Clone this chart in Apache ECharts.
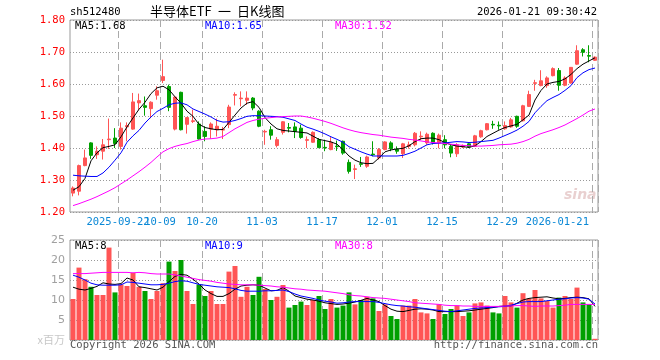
<!DOCTYPE html>
<html><head><meta charset="utf-8">
<script src="https://cdn.jsdelivr.net/npm/echarts@6/dist/echarts.min.js"></script>
<style>html,body{margin:0;padding:0;background:#fff}#c{width:660px;height:360px}</style>
</head><body><div id="c"></div>
<script>
const dates = [
'2025-09-10','2025-09-11','2025-09-12','2025-09-15','2025-09-16','2025-09-17','2025-09-18','2025-09-19',
'2025-09-22','2025-09-23','2025-09-24','2025-09-25','2025-09-26','2025-09-29','2025-09-30',
'2025-10-09','2025-10-10','2025-10-13','2025-10-14','2025-10-15','2025-10-16','2025-10-17',
'2025-10-20','2025-10-21','2025-10-22','2025-10-23','2025-10-24','2025-10-27','2025-10-28','2025-10-29','2025-10-30','2025-10-31',
'2025-11-03','2025-11-04','2025-11-05','2025-11-06','2025-11-07','2025-11-10','2025-11-11','2025-11-12','2025-11-13','2025-11-14',
'2025-11-17','2025-11-18','2025-11-19','2025-11-20','2025-11-21','2025-11-24','2025-11-25','2025-11-26','2025-11-27','2025-11-28',
'2025-12-01','2025-12-02','2025-12-03','2025-12-04','2025-12-05','2025-12-08','2025-12-09','2025-12-10','2025-12-11','2025-12-12',
'2025-12-15','2025-12-16','2025-12-17','2025-12-18','2025-12-19','2025-12-22','2025-12-23','2025-12-24','2025-12-25','2025-12-26',
'2025-12-29','2025-12-30','2025-12-31',
'2026-01-05','2026-01-06','2026-01-07','2026-01-08','2026-01-09','2026-01-12','2026-01-13','2026-01-14','2026-01-15','2026-01-16',
'2026-01-19','2026-01-20','2026-01-21'];

const openP = [1.259,1.265,1.345,1.416,1.379,1.390,1.426,1.431,1.405,1.466,
1.459,1.541,1.532,1.523,1.565,1.611,1.592,1.459,1.574,1.474,
1.483,1.475,1.452,1.459,1.457,1.456,1.473,1.565,1.554,1.549,
1.556,1.515,1.450,1.457,1.408,1.449,1.464,1.466,1.462,1.424,
1.418,1.426,1.402,1.395,1.406,1.421,1.355,1.333,1.351,1.343,
1.381,1.369,1.395,1.416,1.396,1.382,1.405,1.410,1.435,1.416,
1.446,1.416,1.426,1.405,1.382,1.403,1.413,1.405,1.435,1.457,
1.474,1.471,1.460,1.466,1.499,1.485,1.530,1.602,1.595,1.595,
1.626,1.642,1.596,1.603,1.662,1.707,1.689,1.674];
const closeP = [1.275,1.345,1.369,1.377,1.390,1.410,1.428,1.414,1.462,1.470,
1.544,1.548,1.527,1.543,1.579,1.623,1.527,1.559,1.457,1.495,
1.485,1.428,1.436,1.475,1.468,1.458,1.528,1.567,1.556,1.556,
1.525,1.468,1.452,1.440,1.426,1.482,1.462,1.452,1.433,1.426,
1.449,1.401,1.400,1.418,1.404,1.384,1.327,1.335,1.349,1.372,
1.379,1.395,1.419,1.398,1.390,1.413,1.410,1.446,1.437,1.443,
1.416,1.440,1.410,1.384,1.410,1.408,1.403,1.438,1.454,1.476,
1.472,1.469,1.470,1.488,1.468,1.532,1.567,1.604,1.610,1.619,
1.648,1.596,1.619,1.652,1.704,1.699,1.687,1.684];
const lowP = [1.249,1.252,1.343,1.366,1.366,1.364,1.397,1.400,1.395,1.421,
1.457,1.518,1.501,1.493,1.551,1.603,1.515,1.455,1.455,1.445,
1.478,1.426,1.421,1.429,1.436,1.428,1.462,1.533,1.530,1.535,
1.518,1.465,1.410,1.426,1.402,1.442,1.449,1.431,1.429,1.400,
1.416,1.400,1.390,1.393,1.391,1.379,1.320,1.303,1.341,1.338,
1.374,1.364,1.393,1.390,1.382,1.369,1.398,1.405,1.425,1.410,
1.411,1.399,1.399,1.371,1.372,1.400,1.400,1.403,1.432,1.455,
1.460,1.457,1.457,1.463,1.463,1.483,1.528,1.579,1.593,1.588,
1.624,1.579,1.593,1.601,1.660,1.686,1.668,1.672];
const highP = [1.280,1.348,1.395,1.418,1.405,1.428,1.492,1.462,1.480,1.480,
1.572,1.570,1.561,1.546,1.593,1.676,1.598,1.561,1.576,1.497,
1.520,1.483,1.468,1.480,1.492,1.466,1.535,1.574,1.577,1.577,
1.559,1.518,1.457,1.468,1.434,1.484,1.478,1.480,1.473,1.436,
1.452,1.431,1.426,1.434,1.423,1.423,1.364,1.348,1.372,1.376,
1.421,1.400,1.421,1.421,1.405,1.416,1.420,1.450,1.452,1.448,
1.449,1.445,1.440,1.410,1.415,1.411,1.415,1.441,1.457,1.478,
1.485,1.483,1.483,1.494,1.501,1.535,1.579,1.613,1.643,1.624,
1.652,1.650,1.624,1.653,1.721,1.712,1.721,1.686];

const volume = [10.25,18.1,15.2,13.3,11.25,11.25,23.1,11.9,13.9,13.5,
16.8,13.3,12.25,10.25,12.25,14.2,19.6,17.25,20.0,12.25,
9.0,13.9,11.0,12.25,9.0,9.0,17.1,18.5,10.8,13.3,
11.25,15.8,12.75,10.0,10.8,13.75,8.1,8.75,9.6,8.75,
10.0,11.0,7.75,10.25,8.1,8.6,11.9,8.9,10.0,10.8,
10.4,7.25,8.9,6.0,5.25,8.6,8.6,10.25,6.9,6.65,
5.25,8.9,6.5,7.75,8.6,6.0,6.9,9.15,9.4,8.6,
6.9,6.65,11.0,9.4,8.1,11.7,10.4,12.5,10.4,9.75,
8.1,10.6,11.0,10.25,13.1,9.4,8.9,0.3];

const ma5 = [1.268,1.279,1.305,1.360,1.385,1.401,1.405,1.410,1.435,1.466,
1.494,1.521,1.543,1.570,1.588,1.593,1.582,1.560,1.540,1.515,
1.499,1.474,1.464,1.460,1.457,1.458,1.480,1.503,1.525,1.540,
1.545,1.527,1.495,1.475,1.460,1.455,1.453,1.451,1.449,1.447,
1.437,1.427,1.423,1.419,1.412,1.395,1.375,1.362,1.354,1.351,
1.352,1.369,1.388,1.394,1.397,1.399,1.407,1.420,1.429,1.431,
1.431,1.426,1.417,1.410,1.406,1.404,1.402,1.407,1.420,1.436,
1.446,1.456,1.464,1.469,1.474,1.488,1.503,1.550,1.580,1.600,
1.605,1.608,1.616,1.630,1.648,1.662,1.672,1.682];
const ma10 = [1.315,1.313,1.312,1.311,1.311,1.322,1.340,1.362,1.385,1.418,
1.438,1.455,1.478,1.497,1.514,1.524,1.535,1.540,1.541,1.535,
1.522,1.514,1.506,1.497,1.486,1.481,1.482,1.486,1.492,1.499,
1.501,1.501,1.500,1.499,1.498,1.496,1.491,1.486,1.475,1.465,
1.459,1.452,1.444,1.435,1.427,1.418,1.404,1.396,1.388,1.381,
1.375,1.375,1.375,1.375,1.375,1.377,1.383,1.390,1.400,1.410,
1.414,1.415,1.416,1.418,1.420,1.419,1.417,1.418,1.420,1.422,
1.424,1.431,1.439,1.447,1.456,1.468,1.483,1.510,1.530,1.548,
1.558,1.567,1.580,1.595,1.620,1.635,1.645,1.650];
const ma30 = [1.220,1.226,1.233,1.240,1.248,1.257,1.266,1.276,1.288,1.300,
1.313,1.326,1.340,1.355,1.372,1.388,1.398,1.405,1.410,1.414,
1.420,1.425,1.428,1.429,1.431,1.436,1.448,1.460,1.470,1.480,
1.486,1.490,1.493,1.495,1.497,1.498,1.499,1.500,1.500,1.497,
1.493,1.488,1.483,1.477,1.470,1.463,1.457,1.452,1.448,1.445,
1.442,1.440,1.437,1.434,1.432,1.430,1.427,1.425,1.422,1.419,
1.417,1.416,1.414,1.412,1.410,1.408,1.407,1.406,1.406,1.407,
1.408,1.410,1.411,1.412,1.415,1.420,1.427,1.437,1.445,1.451,
1.457,1.464,1.472,1.482,1.492,1.503,1.515,1.522];

const volMa5 = [13.2,12.7,12.5,12.9,13.4,14.3,14.0,13.9,14.1,15.5,
15.0,13.3,13.1,12.8,12.5,13.2,14.6,15.9,16.4,16.2,
15.2,14.0,12.5,11.6,10.9,10.9,11.6,12.7,13.5,13.7,
13.8,13.7,13.0,12.3,12.4,13.1,12.2,11.0,10.6,10.2,
10.0,9.7,9.3,9.1,8.9,9.0,9.2,9.5,9.9,10.4,
10.0,9.6,8.6,7.7,7.2,7.1,7.4,7.7,7.8,7.7,
7.5,7.1,7.1,7.1,7.1,7.2,7.3,7.5,7.7,7.9,
8.1,8.4,8.5,8.5,9.2,10.0,10.4,10.6,10.7,10.8,
10.5,10.3,10.4,10.6,10.7,10.6,10.3,8.4];
const volMa10 = [16.2,15.7,15.0,14.2,13.8,13.7,13.7,13.7,13.8,14.5,
14.4,14.2,14.0,13.8,13.8,13.9,14.2,14.6,14.8,14.7,
14.3,13.9,13.7,13.5,13.3,13.2,13.1,12.8,12.4,12.2,
12.2,12.2,12.3,12.3,12.4,12.5,12.1,11.5,11.0,10.7,
10.4,10.0,9.7,9.5,9.2,9.3,9.5,9.6,9.6,9.6,
9.6,9.4,9.1,8.8,8.6,8.5,8.3,8.2,8.0,7.8,
7.6,7.4,7.2,7.1,7.3,7.5,7.7,7.9,8.0,8.1,
8.2,8.3,8.4,8.7,9.1,9.5,9.6,9.6,9.6,9.8,
10.0,10.2,10.3,10.5,10.6,10.5,10.2,9.0];
const volMa30 = [16.6,16.6,16.6,16.7,16.8,16.9,16.9,16.9,16.9,16.9,
16.8,16.9,16.8,16.6,16.5,16.5,16.5,16.3,16.0,15.7,
15.4,15.1,14.9,14.7,14.4,14.2,14.0,13.9,13.8,13.8,
13.8,13.7,13.6,13.5,13.3,13.2,13.0,12.8,12.7,12.5,
12.4,12.3,12.2,12.0,11.8,11.6,11.3,11.1,11.0,10.8,
10.6,10.5,10.4,10.2,10.0,9.8,9.6,9.3,9.2,9.1,
9.0,8.9,8.7,8.6,8.6,8.5,8.5,8.4,8.4,8.4,
8.4,8.4,8.5,8.5,8.6,8.6,8.5,8.4,8.5,8.5,
8.5,8.6,8.7,8.9,8.9,8.9,8.9,8.9];

const tickDates = ['2025-09-22','2025-10-09','2025-10-20','2025-11-03','2025-11-17','2025-12-01','2025-12-15','2025-12-29','2026-01-21'];
const tickLabels = ['2025-09-22','10-09','10-20','11-03','11-17','12-01','12-15','12-29','2026-01-21'];
const priceTicks = [1.20,1.30,1.40,1.50,1.60,1.70,1.80];
const volTicks = [0,5,10,15,20,25];

const UP = '#ff5555', DOWN = '#00a000';
const MONO = '"DejaVu Sans Mono", monospace';

const kData = dates.map((d, i) => [openP[i], closeP[i], lowP[i], highP[i]]);
const isTick = (idx, val) => tickDates.indexOf(val) >= 0;
const isFirstTick = (idx, val) => val === tickDates[0];
const isOtherTick = (idx, val) => tickDates.indexOf(val) > 0;

const chart = echarts.init(document.getElementById('c'), null, {renderer: 'canvas'});
const labelBase = {show: true, hideOverlap: false, margin: 5, color: '#0a88d6', fontFamily: MONO, fontSize: 10.5,
  padding: [0, 6, 0, 0], formatter: v => tickLabels[tickDates.indexOf(v)] || ''};
const xCommon = {
  type: 'category', data: dates, boundaryGap: true, position: 'bottom',
  axisLine: {show: false}, axisTick: {show: false},
  splitLine: {show: true, interval: isTick, lineStyle: {color: '#aaaaaa', type: [7, 4], width: 1}}
};
chart.setOption({
  animation: false,
  backgroundColor: '#ffffff',
  grid: [
    {left: 70, top: 20, width: 528, height: 192, show: true, borderColor: '#999999', borderWidth: 1, backgroundColor: 'transparent'},
    {left: 70, top: 240, width: 528, height: 100, show: true, borderColor: '#999999', borderWidth: 1, backgroundColor: 'transparent'}
  ],
  xAxis: [
    Object.assign({}, xCommon, {gridIndex: 0,
      axisLabel: Object.assign({}, labelBase, {interval: isOtherTick, alignMaxLabel: 'right'})}),
    Object.assign({}, xCommon, {gridIndex: 1, axisLabel: {show: false}}),
    Object.assign({}, xCommon, {gridIndex: 0, splitLine: {show: false},
      axisLabel: Object.assign({}, labelBase, {interval: isFirstTick})})
  ],
  yAxis: [
    {gridIndex: 0, type: 'value', min: priceTicks[0], max: priceTicks[priceTicks.length - 1], interval: 0.1,
      axisLine: {show: false}, axisTick: {show: false},
      axisLabel: {color: '#ff0000', fontFamily: MONO, fontSize: 10.5, margin: 5, formatter: v => v.toFixed(2)},
      splitLine: {show: true, lineStyle: {color: '#999999', type: [1, 2], width: 1}}},
    {gridIndex: 1, type: 'value', min: volTicks[0], max: volTicks[volTicks.length - 1], interval: 5,
      axisLine: {show: false}, axisTick: {show: false},
      axisLabel: {color: '#a0a0a0', fontFamily: '"DejaVu Sans", sans-serif', fontSize: 11, margin: 5,
        formatter: v => v === 0 ? '{u|x百万}' : String(v),
        rich: {u: {color: '#c8c8c8', fontSize: 11, fontFamily: '"Noto Sans CJK SC", sans-serif'}}},
      splitLine: {show: true, lineStyle: {color: '#999999', type: [1, 2], width: 1}}}
  ],
  series: [
    {type: 'candlestick', xAxisIndex: 0, yAxisIndex: 0, data: kData, barWidth: 4,
      itemStyle: {color: UP, color0: DOWN, borderColor: UP, borderColor0: DOWN, borderWidth: 1}},
    {type: 'line', xAxisIndex: 0, yAxisIndex: 0, data: ma5, symbol: 'none', lineStyle: {color: '#000000', width: 1}},
    {type: 'line', xAxisIndex: 0, yAxisIndex: 0, data: ma10, symbol: 'none', lineStyle: {color: '#0000ff', width: 1}},
    {type: 'line', xAxisIndex: 0, yAxisIndex: 0, data: ma30, symbol: 'none', lineStyle: {color: '#ff00ff', width: 1}},
    {type: 'bar', xAxisIndex: 1, yAxisIndex: 1, data: volume, barWidth: 5,
      itemStyle: {color: p => closeP[p.dataIndex] >= openP[p.dataIndex] ? UP : DOWN}},
    {type: 'line', xAxisIndex: 1, yAxisIndex: 1, data: volMa5, symbol: 'none', lineStyle: {color: '#000000', width: 1}},
    {type: 'line', xAxisIndex: 1, yAxisIndex: 1, data: volMa10, symbol: 'none', lineStyle: {color: '#0000ff', width: 1}},
    {type: 'line', xAxisIndex: 1, yAxisIndex: 1, data: volMa30, symbol: 'none', lineStyle: {color: '#ff00ff', width: 1}}
  ],
  graphic: [
    {type: 'text', x: 70, y: 7, style: {text: 'sh512480', fill: '#000', font: '10.5px ' + MONO}},
    {type: 'text', x: 150, y: 5, style: {text: '半导体ETF', fill: '#000', font: '13px "Noto Sans CJK SC"'}},
    {type: 'text', x: 218, y: 5, style: {text: '一', fill: '#000', font: '13px "Noto Sans CJK SC"'}},
    {type: 'text', x: 237, y: 5, style: {text: '日K线图', fill: '#000', font: '13px "Noto Sans CJK SC"'}},
    {type: 'text', x: 597, y: 7, style: {text: '2026-01-21 09:30:42', fill: '#000', font: '10.5px ' + MONO, align: 'right'}},
    {type: 'text', x: 75, y: 21, style: {text: 'MA5:1.68', fill: '#000', font: '10.5px ' + MONO}},
    {type: 'text', x: 205, y: 21, style: {text: 'MA10:1.65', fill: '#0000ff', font: '10.5px ' + MONO}},
    {type: 'text', x: 335, y: 21, style: {text: 'MA30:1.52', fill: '#ff00ff', font: '10.5px ' + MONO}},
    {type: 'text', x: 75, y: 241, style: {text: 'MA5:8', fill: '#000', font: '10.5px ' + MONO}},
    {type: 'text', x: 205, y: 241, style: {text: 'MA10:9', fill: '#0000ff', font: '10.5px ' + MONO}},
    {type: 'text', x: 335, y: 241, style: {text: 'MA30:8', fill: '#ff00ff', font: '10.5px ' + MONO}},
    {type: 'text', x: 70, y: 340, style: {text: 'Copyright 2026 SINA.COM', fill: '#555', font: '10.5px ' + MONO}},
    {type: 'text', x: 598, y: 340, style: {text: 'http://finance.sina.com.cn', fill: '#555', font: '10.5px ' + MONO, align: 'right'}},
    {type: 'text', x: 564, y: 188, style: {text: 'sina', fill: 'rgba(215,170,170,0.55)', font: 'italic bold 14px "DejaVu Sans"'}}
  ]
});
</script>
</body></html>
